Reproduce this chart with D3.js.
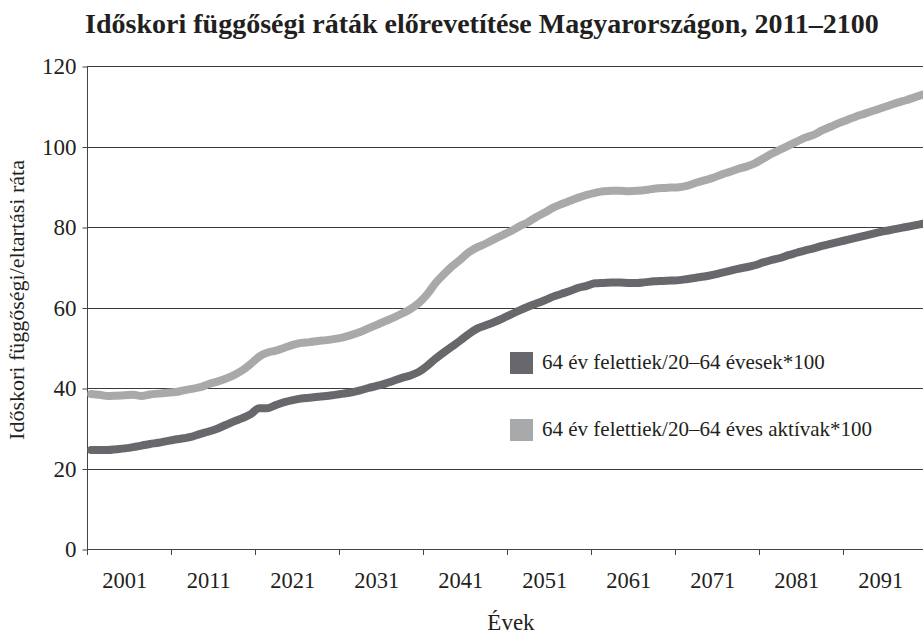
<!DOCTYPE html>
<html lang="en">
<head>
    <meta charset="UTF-8">
    <title>Időskori függőségi ráták</title>
    <script src="https://d3js.org/d3.v7.min.js"></script>
    <style>
        body { margin: 0; background: #fff; }
        text { font-family: "Liberation Serif", "Times New Roman", serif; fill: #231f20; }
    </style>
</head>
<body>
<svg width="923" height="640"></svg>
<script>

    const years = d3.range(1997, 2097);

    // 64 év felettiek / 20–64 évesek * 100
    const oldAge = [
        24.6, 24.6, 24.6, 24.8, 25.0, 25.3, 25.7, 26.1, 26.4, 26.8,
        27.2, 27.5, 27.9, 28.6, 29.2, 29.9, 30.8, 31.7, 32.5, 33.5,
        35.0, 35.0, 35.8, 36.5, 37.0, 37.4, 37.6, 37.8, 38.0, 38.3,
        38.6, 38.9, 39.4, 40.0, 40.5, 41.1, 41.8, 42.5, 43.1, 44.0,
        45.5, 47.3, 48.9, 50.4, 51.9, 53.5, 54.8, 55.6, 56.4, 57.3,
        58.3, 59.3, 60.2, 61.0, 61.8, 62.7, 63.4, 64.1, 64.9, 65.4,
        66.0, 66.1, 66.2, 66.2, 66.1, 66.1, 66.3, 66.5, 66.6, 66.7,
        66.8, 67.1, 67.4, 67.7, 68.1, 68.6, 69.1, 69.6, 70.0, 70.5,
        71.2, 71.8, 72.3, 73.0, 73.6, 74.2, 74.7, 75.3, 75.8, 76.3,
        76.8, 77.3, 77.8, 78.3, 78.8, 79.2, 79.6, 80.0, 80.4, 80.8
    ];

    // 64 év felettiek / 20–64 éves aktívak * 100
    const oldActive = [
        38.5, 38.3, 38.0, 38.1, 38.2, 38.3, 38.0, 38.4, 38.6, 38.8,
        39.0, 39.4, 39.8, 40.2, 41.0, 41.6, 42.3, 43.2, 44.4, 46.0,
        47.8, 48.8, 49.3, 50.0, 50.7, 51.2, 51.4, 51.7, 51.9, 52.2,
        52.6, 53.2, 53.9, 54.8, 55.7, 56.6, 57.5, 58.5, 59.6, 61.1,
        63.3, 66.1, 68.3, 70.3, 72.0, 73.8, 75.0, 75.9, 77.0, 78.0,
        79.0, 80.2, 81.2, 82.5, 83.6, 84.8, 85.7, 86.5, 87.3, 88.0,
        88.5, 88.9, 89.0, 89.0, 88.9, 89.0, 89.2, 89.5, 89.7, 89.8,
        89.9, 90.3, 91.0, 91.6, 92.2, 93.0, 93.7, 94.4, 95.0, 95.8,
        97.0, 98.2, 99.2, 100.2, 101.2, 102.2, 102.9, 104.0, 104.9, 105.8,
        106.6, 107.4, 108.1, 108.8, 109.5, 110.2, 110.9, 111.5, 112.2, 112.9
    ];

    const xLabels = [2001, 2011, 2021, 2031, 2041, 2051, 2061, 2071, 2081, 2091];
    const yTicks = [0, 20, 40, 60, 80, 100, 120];

    const seriesNames = [
        "64 év felettiek/20–64 évesek*100",
        "64 év felettiek/20–64 éves aktívak*100"
    ];
    const colors = ["#68686c", "#a8a9ab"];

    const svg = d3.select("svg");
    const plot = {left: 87, right: 923, top: 66, bottom: 549};

    const x = d3.scaleLinear().domain([1996.5, 2096.5]).range([plot.left, 927]);
    const y = d3.scaleLinear().domain([0, 120]).range([plot.bottom, plot.top]);

    // title
    svg.append("text")
        .attr("x", 482).attr("y", 33)
        .attr("text-anchor", "middle")
        .attr("font-size", 28).attr("font-weight", "bold")
        .text("Időskori függőségi ráták előrevetítése Magyarországon, 2011–2100");

    // gridlines
    svg.append("g")
        .selectAll("line")
        .data(yTicks.filter(d => d > 0))
        .join("line")
        .attr("x1", plot.left).attr("x2", plot.right)
        .attr("y1", d => Math.round(y(d)) + 0.5)
        .attr("y2", d => Math.round(y(d)) + 0.5)
        .attr("stroke", "#3a3a3a").attr("stroke-width", 1);

    // y axis
    const yAxis = d3.axisLeft(y).tickValues(yTicks).tickSize(5).tickPadding(6);
    svg.append("g")
        .attr("transform", `translate(${plot.left + 0.5},0.5)`)
        .call(yAxis)
        .call(g => g.select(".domain").attr("stroke", "#444").attr("d", `M0,${plot.top}V${plot.bottom}`))
        .call(g => g.selectAll(".tick line").attr("stroke", "#444"))
        .call(g => g.selectAll(".tick text")
            .attr("font-size", 23).attr("font-family", "Liberation Serif, serif").attr("fill", "#231f20"));

    // x axis: tick marks between categories, labels in the middle
    const xTickPos = d3.range(1996.5, 2096, 10);
    const xg = svg.append("g");
    xg.append("line")
        .attr("x1", plot.left).attr("x2", plot.right)
        .attr("y1", plot.bottom + 0.5).attr("y2", plot.bottom + 0.5)
        .attr("stroke", "#444");
    xg.selectAll("line.tick")
        .data(xTickPos)
        .join("line")
        .attr("class", "tick")
        .attr("x1", d => Math.round(x(d)) + 0.5).attr("x2", d => Math.round(x(d)) + 0.5)
        .attr("y1", plot.bottom).attr("y2", plot.bottom + 6)
        .attr("stroke", "#444");
    xg.selectAll("text")
        .data(xLabels)
        .join("text")
        .attr("x", d => x(d))
        .attr("y", 588)
        .attr("text-anchor", "middle")
        .attr("font-size", 22.5)
        .text(d => d);

    // axis titles
    svg.append("text")
        .attr("x", 511).attr("y", 630)
        .attr("text-anchor", "middle")
        .attr("font-size", 23)
        .text("Évek");

    svg.append("text")
        .attr("transform", "translate(24,300) rotate(-90)")
        .attr("text-anchor", "middle")
        .attr("font-size", 22)
        .text("Időskori függőségi/eltartási ráta");

    // lines
    svg.append("clipPath").attr("id", "plotclip")
        .append("rect").attr("x", plot.left - 6).attr("y", plot.top - 10)
        .attr("width", plot.right - plot.left + 6).attr("height", plot.bottom - plot.top + 10);

    const line = d3.line()
        .x((d, i) => x(years[i]))
        .y(d => y(d))
        .curve(d3.curveMonotoneX);

    svg.append("g").attr("clip-path", "url(#plotclip)")
        .selectAll("path")
        .data([oldAge, oldActive])
        .join("path")
        .attr("d", line)
        .attr("fill", "none")
        .attr("stroke", (d, i) => colors[i])
        .attr("stroke-width", 8)
        .attr("stroke-linejoin", "round")
        .attr("stroke-linecap", "round");

    // legend
    const legend = svg.append("g")
        .selectAll("g")
        .data(seriesNames)
        .join("g")
        .attr("transform", (d, i) => `translate(510,${352 + i * 67})`);
    legend.append("rect")
        .attr("width", 23).attr("height", 22)
        .attr("fill", (d, i) => colors[i]);
    legend.append("text")
        .attr("x", 32).attr("y", 17)
        .attr("font-size", 21)
        .text(d => d);

</script>
</body>
</html>
